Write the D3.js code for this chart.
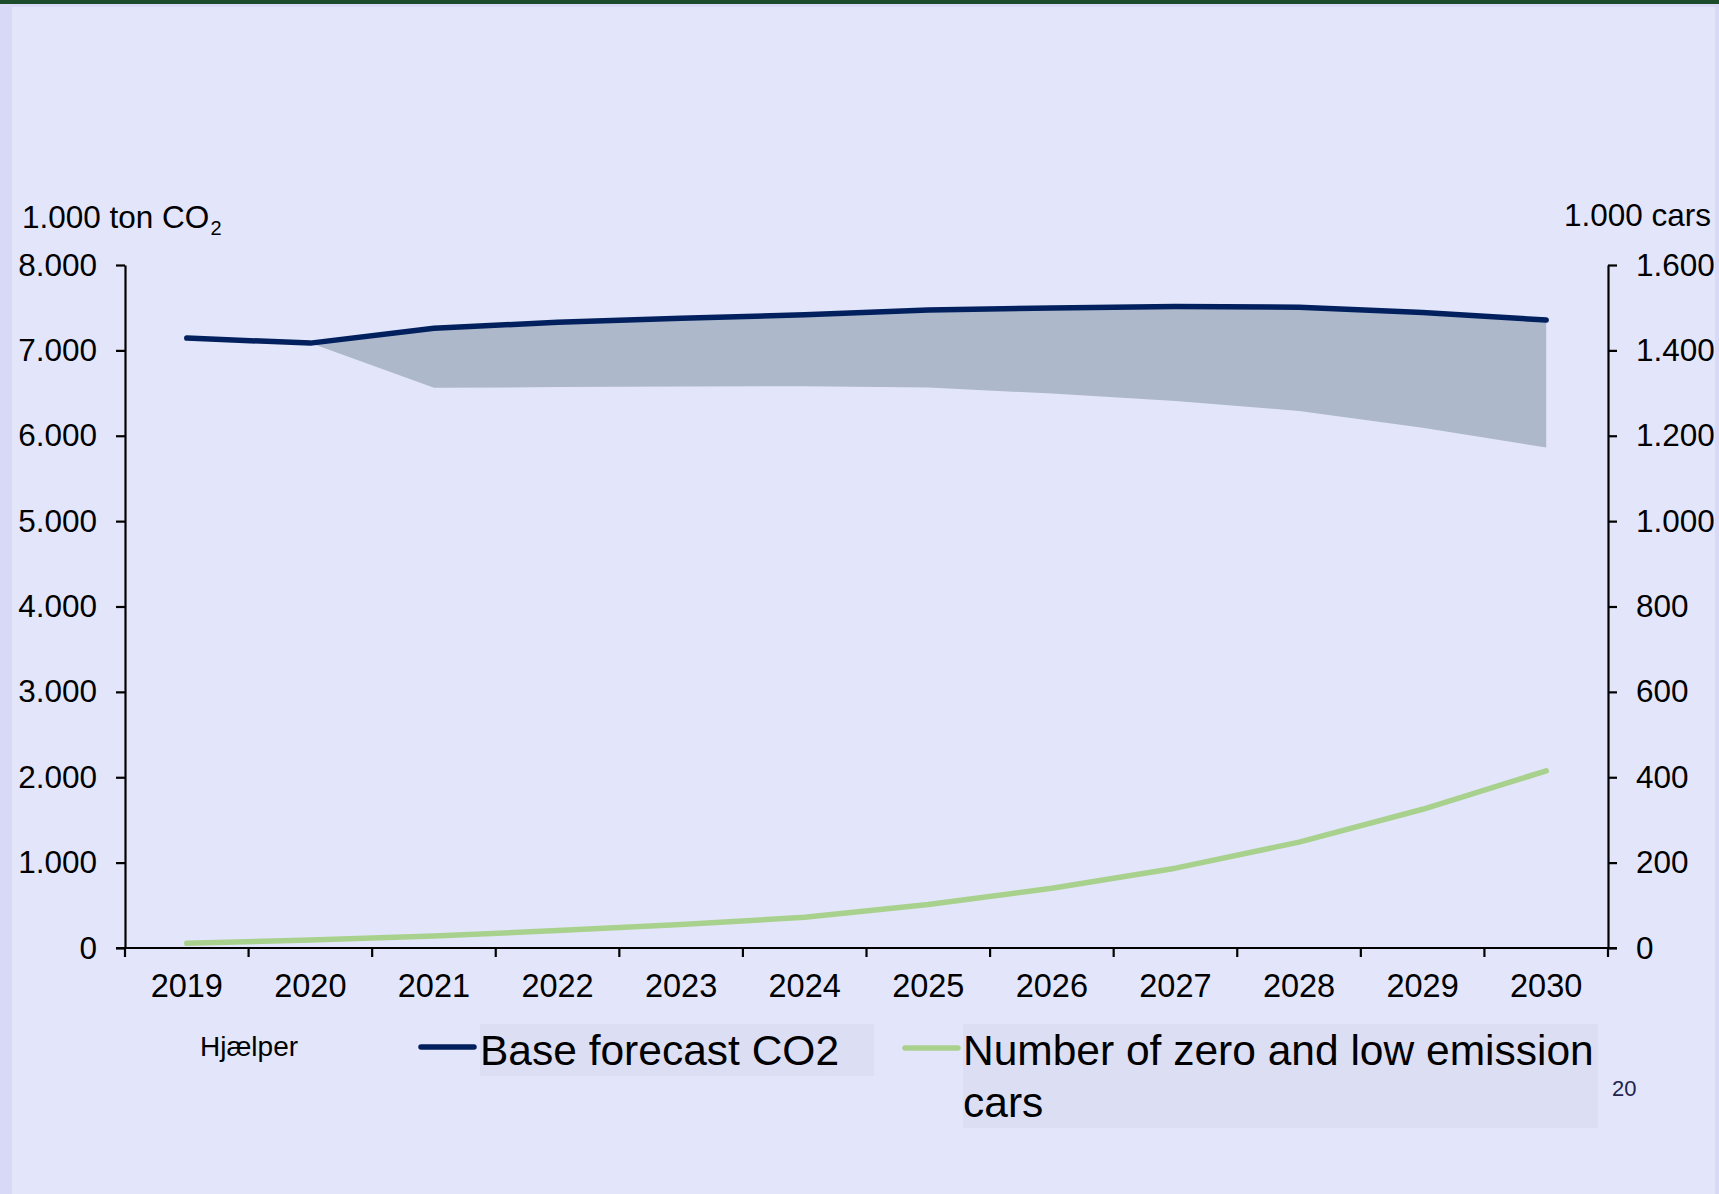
<!DOCTYPE html>
<html>
<head>
<meta charset="utf-8">
<script src="https://cdn.jsdelivr.net/npm/d3@7/dist/d3.min.js"></script>
<style>
  html, body { margin: 0; padding: 0; background: #e3e6fa; }
  svg { display: block; font-family: "Liberation Sans", Arial, sans-serif; }
</style>
</head>
<body>
<svg id="chart" width="1719" height="1194"></svg>
<script>
// Years on the category axis
const years = ["2019", "2020", "2021", "2022", "2023", "2024", "2025", "2026", "2027", "2028", "2029", "2030"];

// Base forecast CO2 emissions, 1.000 ton CO2 (left axis)
const baseForecast = [7144, 7085, 7258, 7330, 7375, 7417, 7472, 7497, 7515, 7505, 7445, 7355];

// Helper series: lower edge of the shaded reduction band (left axis)
const helper = [null, 7085, 6561, 6570, 6578, 6580, 6565, 6494, 6408, 6290, 6095, 5861];

// Number of zero and low emission cars, 1.000 cars (right axis)
const zeroLowCars = [11, 19, 28, 41, 55, 72, 102, 140, 187, 248, 325, 415];

// Axis ticks
const leftTicks = [0, 1000, 2000, 3000, 4000, 5000, 6000, 7000, 8000];
const rightTicks = [0, 200, 400, 600, 800, 1000, 1200, 1400, 1600];

// Text
const leftTitle = "1.000 ton CO";
const rightTitle = "1.000 cars";
const helperLabel = "Hjælper";
const baseLabel = "Base forecast CO2";
const carsLabelLines = ["Number of zero and low emission", "cars"];
const pageNumber = "20";

const svg = d3.select("#chart");
const W = 1719, H = 1194;

// Danish number formatting (thousands separated by ".")
const da = d3.formatLocale({ decimal: ",", thousands: ".", grouping: [3], currency: ["", " kr."] });
const fmt = da.format(",d");

// Slide background and frame
svg.append("rect").attr("x", 0).attr("y", 0).attr("width", W).attr("height", H).attr("fill", "#e3e6fa");
svg.append("rect").attr("x", 0).attr("y", 0).attr("width", 12).attr("height", H).attr("fill", "#d7d9f7");
svg.append("rect").attr("x", W - 4).attr("y", 0).attr("width", 4).attr("height", H).attr("fill", "#d7d9f7");
svg.append("rect").attr("x", 0).attr("y", 4).attr("width", W).attr("height", 3).attr("fill", "#d7d9f7");
svg.append("rect").attr("x", 0).attr("y", 0).attr("width", W).attr("height", 4).attr("fill", "#1d4c2c");

// Plot geometry
const plot = { left: 125, right: 1608, top: 265, bottom: 948 };

const x = d3.scaleBand().domain(years).range([plot.left, plot.right]).padding(0);
const cx = d => x(d) + x.bandwidth() / 2;
const yL = d3.scaleLinear().domain([0, 8000]).range([plot.bottom, plot.top]);
const yR = d3.scaleLinear().domain([0, 1600]).range([plot.bottom, plot.top]);

// Shaded band between helper and base forecast
const bandData = years.map((yr, i) => ({ yr, lo: helper[i], hi: baseForecast[i] }))
  .filter(d => d.lo !== null);
const area = d3.area()
  .x(d => cx(d.yr))
  .y0(d => yL(d.lo))
  .y1(d => yL(d.hi));
svg.append("path").datum(bandData)
  .attr("d", area)
  .attr("fill", "#adb8ca");

// Base forecast line
const baseLine = d3.line().x((d, i) => cx(years[i])).y(d => yL(d));
svg.append("path").datum(baseForecast)
  .attr("d", baseLine)
  .attr("fill", "none")
  .attr("stroke", "#03205e")
  .attr("stroke-width", 5.5)
  .attr("stroke-linecap", "round")
  .attr("stroke-linejoin", "round");

// Zero and low emission cars line
const carsLine = d3.line().x((d, i) => cx(years[i])).y(d => yR(d));
svg.append("path").datum(zeroLowCars)
  .attr("d", carsLine)
  .attr("fill", "none")
  .attr("stroke", "#a9d18e")
  .attr("stroke-width", 5.5)
  .attr("stroke-linecap", "round")
  .attr("stroke-linejoin", "round");

// Axes
function styleAxis(g) {
  g.selectAll("path.domain").attr("stroke", "#000").attr("stroke-width", 2.2);
  g.selectAll(".tick line").attr("stroke", "#000").attr("stroke-width", 2.2);
  g.selectAll("text").attr("fill", "#000").attr("font-family", "Liberation Sans, Arial, sans-serif");
}

const leftAxis = svg.append("g")
  .attr("transform", `translate(${plot.left},0)`)
  .call(d3.axisLeft(yL).tickValues(leftTicks).tickFormat(fmt).tickSizeInner(9).tickSizeOuter(0).tickPadding(19));
leftAxis.call(styleAxis);
leftAxis.selectAll("text").attr("font-size", 31.5);

const rightAxis = svg.append("g")
  .attr("transform", `translate(${plot.right},0)`)
  .call(d3.axisRight(yR).tickValues(rightTicks).tickFormat(fmt).tickSizeInner(9).tickSizeOuter(0).tickPadding(19));
rightAxis.call(styleAxis);
rightAxis.selectAll("text").attr("font-size", 31.5);

// Category axis: ticks at band boundaries, labels centred in bands
const xAxis = svg.append("g").attr("transform", `translate(0,${plot.bottom})`);
xAxis.append("line")
  .attr("x1", plot.left - 9).attr("x2", plot.right + 9)
  .attr("stroke", "#000").attr("stroke-width", 2.2);
const bounds = years.map(yr => x(yr)).concat([x(years[years.length - 1]) + x.bandwidth()]);
xAxis.selectAll("line.tick").data(bounds).join("line")
  .attr("class", "tick")
  .attr("x1", d => d).attr("x2", d => d)
  .attr("y1", 0).attr("y2", 9)
  .attr("stroke", "#000").attr("stroke-width", 2.2);
xAxis.selectAll("text").data(years).join("text")
  .attr("x", d => cx(d))
  .attr("y", 49)
  .attr("text-anchor", "middle")
  .attr("font-size", 32.5)
  .attr("fill", "#000")
  .text(d => d);

// Axis titles
const lt = svg.append("text")
  .attr("x", 22).attr("y", 228)
  .attr("font-size", 31.5).attr("fill", "#000");
lt.append("tspan").text(leftTitle);
lt.append("tspan").attr("dx", 1).attr("dy", 7).attr("font-size", 20).text("2");

svg.append("text")
  .attr("x", 1711).attr("y", 226)
  .attr("text-anchor", "end")
  .attr("font-size", 31.5).attr("fill", "#000")
  .text(rightTitle);

// Legend
svg.append("text")
  .attr("x", 200).attr("y", 1056)
  .attr("font-size", 28).attr("fill", "#000")
  .text(helperLabel);

svg.append("line")
  .attr("x1", 421).attr("x2", 474).attr("y1", 1047).attr("y2", 1047)
  .attr("stroke", "#03205e").attr("stroke-width", 5.5).attr("stroke-linecap", "round");
svg.append("rect")
  .attr("x", 480).attr("y", 1024).attr("width", 394).attr("height", 52)
  .attr("fill", "#dcdef3");
svg.append("text")
  .attr("x", 480).attr("y", 1065)
  .attr("font-size", 42.5).attr("fill", "#000")
  .text(baseLabel);

svg.append("line")
  .attr("x1", 905).attr("x2", 958).attr("y1", 1048).attr("y2", 1048)
  .attr("stroke", "#a9d18e").attr("stroke-width", 5.5).attr("stroke-linecap", "round");
svg.append("rect")
  .attr("x", 963).attr("y", 1024).attr("width", 635).attr("height", 104)
  .attr("fill", "#dcdef3");
svg.append("text")
  .attr("font-size", 42.5).attr("fill", "#000")
  .selectAll("tspan").data(carsLabelLines).join("tspan")
  .attr("x", 963)
  .attr("y", (d, i) => 1065 + i * 52)
  .text(d => d);

// Page number
svg.append("text")
  .attr("x", 1612).attr("y", 1096)
  .attr("font-size", 22).attr("fill", "#22224f")
  .text(pageNumber);
</script>
</body>
</html>
